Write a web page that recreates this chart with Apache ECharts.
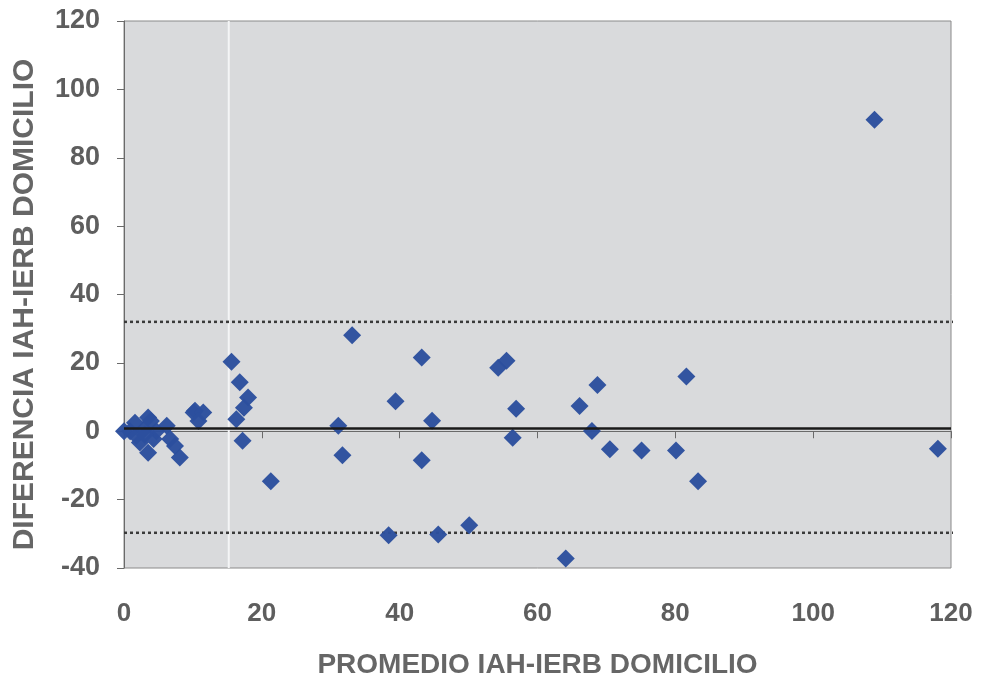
<!DOCTYPE html>
<html>
<head>
<meta charset="utf-8">
<script src="https://cdn.jsdelivr.net/npm/echarts@6/dist/echarts.min.js"></script>
<style>
  html, body { margin: 0; padding: 0; background: #ffffff; }
  #chart { width: 981px; height: 682px; }
</style>
</head>
<body>
<div id="chart"></div>
<script>
// Bland-Altman: promedio (x) vs diferencia (y) de IAH e IERB en domicilio
const promedio = [
  0.0, 0.9, 1.6, 1.8, 2.3, 2.9, 3.5, 3.9, 3.5, 4.3, 4.7, 6.2, 6.7, 7.4, 8.1, 3.0,
  10.1, 10.3, 11.5, 10.8,
  15.6, 16.8, 18.0, 17.4, 16.3, 17.2, 21.3,
  31.1, 31.7, 33.1, 38.4, 39.4, 43.2, 43.2, 44.7, 45.6, 50.1,
  54.3, 55.5, 56.4, 56.9, 64.1, 66.1, 67.9, 68.7, 70.5, 75.1,
  80.1, 81.6, 83.3, 108.9, 118.1
];
const diferencia = [
  0.0, 0.0, 2.5, -1.4, -3.3, 0.5, 4.0, 3.0, -6.3, -2.3, 0.0, 1.6, -2.3, -4.3, -7.7, -1.0,
  5.5, 6.0, 5.5, 3.0,
  20.3, 14.3, 9.9, 6.9, 3.5, -2.8, -14.6,
  1.6, -7.0, 28.1, -30.4, 8.8, 21.6, -8.5, 3.1, -30.2, -27.5,
  18.6, 20.6, -1.9, 6.6, -37.2, 7.4, 0.1, 13.5, -5.3, -5.6,
  -5.6, 16.0, -14.6, 91.1, -5.1
];

// Media de las diferencias y límites de concordancia
const media = 0.8;
const limiteSuperior = 32.0;
const limiteInferior = -29.7;

const ejeX = { min: 0, max: 120, paso: 20 };
const ejeY = { min: -40, max: 120, paso: 20 };

const puntos = promedio.map((x, i) => [x, diferencia[i]]);

const fuente = 'Liberation Sans, Arial, sans-serif';
const grisTexto = '#5e5e5e';

const chart = echarts.init(document.getElementById('chart'), null, { renderer: 'canvas' });

chart.setOption({
  backgroundColor: '#ffffff',
  animation: false,
  grid: {
    left: 124, right: 30, top: 21, bottom: 114,
    outerBoundsMode: 'none',
    containLabel: false,
    show: true,
    backgroundColor: '#d9dadc',
    borderColor: '#8a8a8a',
    borderWidth: 1
  },
  xAxis: {
    type: 'value',
    min: ejeX.min, max: ejeX.max, interval: ejeX.paso,
    name: 'PROMEDIO IAH-IERB DOMICILIO',
    nameLocation: 'middle',
    nameGap: 83,
    nameTextStyle: { fontFamily: fuente, fontWeight: 'bold', fontSize: 28, color: '#666666' },
    axisLine: { show: true, lineStyle: { color: '#6a6a6a', width: 1 } },
    axisTick: { show: true, length: 7, lineStyle: { color: '#6a6a6a' } },
    axisLabel: { fontFamily: fuente, fontWeight: 'bold', fontSize: 26, color: grisTexto, margin: 33 },
    splitLine: { show: false }
  },
  yAxis: {
    type: 'value',
    min: ejeY.min, max: ejeY.max, interval: ejeY.paso,
    name: 'DIFERENCIA IAH-IERB DOMICILIO',
    nameLocation: 'middle',
    nameGap: 84,
    nameTextStyle: { fontFamily: fuente, fontWeight: 'bold', fontSize: 30, color: '#666666', padding: [0, 20, 0, 0] },
    axisLine: { show: true, lineStyle: { color: '#6a6a6a', width: 1 } },
    axisTick: { show: true, length: 7, lineStyle: { color: '#6a6a6a' } },
    axisLabel: { fontFamily: fuente, fontWeight: 'bold', fontSize: 27, color: grisTexto, margin: 24 },
    splitLine: { show: false }
  },
  series: [
    {
      type: 'line',
      data: [[15.2, ejeY.min], [15.2, ejeY.max]],
      symbol: 'none',
      lineStyle: { color: '#f4f5f6', width: 2 },
      silent: true,
      z: 1
    },
    {
      type: 'line',
      data: [[0, limiteSuperior], [121.3, limiteSuperior]],
      symbol: 'none',
      clip: false,
      lineStyle: { color: '#3a3a3a', width: 2.5, type: [3, 3] },
      silent: true,
      z: 2
    },
    {
      type: 'line',
      data: [[0, limiteInferior], [120.3, limiteInferior]],
      symbol: 'none',
      clip: false,
      lineStyle: { color: '#3a3a3a', width: 2.5, type: [3, 3] },
      silent: true,
      z: 2
    },
    {
      type: 'scatter',
      data: puntos,
      symbol: 'diamond',
      symbolSize: 18,
      itemStyle: { color: '#2c4f9e', opacity: 0.97 },
      z: 3
    },
    {
      type: 'line',
      data: [[0, media], [120, media]],
      symbol: 'none',
      lineStyle: { color: '#1a1a1a', width: 2.5 },
      silent: true,
      z: 4
    }
  ]
});
</script>
</body>
</html>
